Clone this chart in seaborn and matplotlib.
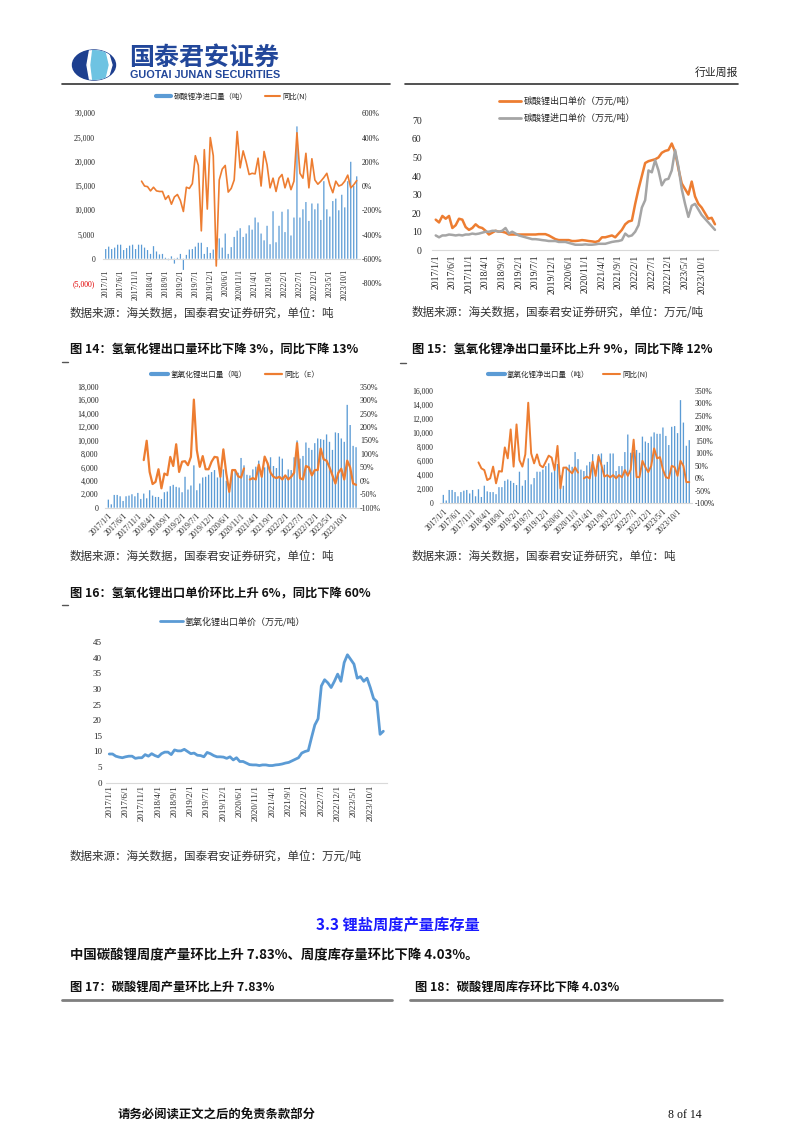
import numpy as np
import pandas as pd
import matplotlib
matplotlib.use("Agg")
import matplotlib.pyplot as plt
from matplotlib.lines import Line2D
from matplotlib.patches import Ellipse, Polygon
import seaborn as sns

sns.set_style("white")
plt.rcParams['font.family'] = ['Noto Sans CJK SC', 'DejaVu Sans']
plt.rcParams['axes.unicode_minus'] = False

W, H = 802, 1133
BLUE = '#5B9BD5'
ORANGE = '#ED7D31'
GRAY = '#A5A5A5'
AXIS = '#D9D9D9'
NUM = 'Liberation Serif'
nan = np.nan

# ---- data ----
months = list(range(85))          # 2017/1 .. 2024/2 (2020/1 merged into 2020/2)
tick_pos = list(range(0, 81, 5))
tick_labels = ["2017/1/1", "2017/6/1", "2017/11/1", "2018/4/1", "2018/9/1", "2019/2/1",
               "2019/7/1", "2019/12/1", "2020/6/1", "2020/11/1", "2021/4/1", "2021/9/1",
               "2022/2/1", "2022/7/1", "2022/12/1", "2023/5/1", "2023/10/1"]
yoy_months = list(range(12, 85))

# fig 13: lithium carbonate net import (t) and yoy (%)
li2co3_net_import = [2000, 2500, 2000, 2300, 2900, 2900, 1800, 2200, 2700, 2900,
                     2000, 2900, 2900, 2300, 1800, 1000, 2600, 1500, 900, 1000,
                     200, -300, 500, -1000, 200, 1000, -2300, 800, 1900, 2000,
                     2500, 3300, 3300, 1000, 2400, 1200, 1900, 3800, 4200, 2300,
                     5200, 1000, 2400, 4500, 5800, 6300, 4500, 5200, 6900, 6000,
                     8500, 7500, 5200, 3800, 6800, 3000, 9800, 3400, 6800, 9700,
                     5500, 10200, 4800, 8500, 27300, 8500, 10200, 11700, 7800, 11400,
                     10200, 11400, 8000, 16000, 10200, 8700, 11900, 12400, 10000, 13200,
                     10600, 16000, 20000, 15000, 17000]
li2co3_net_import_yoy = [40, 0, -5, -40, -10, -40, -45, -45, -110, -80,
                         -150, -90, -70, -120, -210, -10, -20, 20, 250, 170,
                         -370, 300, -190, 400, 250, -660, 50, 140, 170, -50,
                         -20, 50, 450, 150, 290, 200, 95, 105, 100, 230,
                         0, 285, 175, -15, 65, -45, 65, 95, -15, 65,
                         -30, 40, 440, 105, 65, 270, -15, 225, 50, 15,
                         40, 70, 105, 10, -55, 40, 0, 10, 40, 90,
                         -15, 10, 45]

# lithium carbonate unit prices (10k CNY/t)
li2co3_export_price = [16.5, 15, 18.5, 17, 18.5, 12, 13.5, 17, 16.5, 12.5,
                       11, 12, 14, 12.5, 12, 10.5, 8.5, 9.5, 10.5, 10,
                       10, 9.5, 8.5, 8.5, 8.5, 8.5, 8.5, 8.5, 8.5, 8.5,
                       8.5, 8.7, 8.7, 8.7, 8, 7, 6, 5.5, 5.5, 5.5,
                       5.5, 5, 5, 5.2, 5.5, 5.3, 5, 4.8, 4.5, 5,
                       7, 7, 7.5, 8, 7, 9, 11, 14, 15.5, 16,
                       25, 33, 40, 47, 48, 48.5, 49, 50, 52.5, 53.5,
                       54, 57.5, 53, 44, 36, 33, 30, 37, 29, 25,
                       23, 20, 17, 17.5, 14]
li2co3_import_price = [8, 7, 8, 8, 8.5, 8.3, 8, 8.3, 8, 8.5,
                       8.5, 9, 8.7, 9, 9.5, 10, 10, 10.5, 10.5, 10,
                       10.5, 12, 9, 10, 9, 8, 7.5, 7, 6.5, 6,
                       6, 5.8, 5.5, 5.3, 5, 5, 5, 4.5, 4.5, 4.5,
                       4, 3.5, 3, 3, 3, 3.2, 3, 3, 3.2, 3.5,
                       3.5, 3.5, 4, 4.5, 4.8, 5, 5.5, 9, 7.5, 8,
                       10, 13.5, 23, 27, 43, 42, 48.5, 43, 35, 38,
                       38.5, 43, 54, 45, 33, 25, 18, 24, 25, 22,
                       19, 17, 15, 13, 11]

# fig 14: lithium hydroxide export (t) and yoy (%)
lioh_export = [1200, 500, 1900, 1900, 1700, 1000, 1700, 1800, 2000, 1700,
               2200, 1300, 2100, 1400, 2600, 1800, 1600, 1600, 1300, 2300,
               2400, 3200, 3400, 3100, 3000, 2300, 4600, 2700, 3300, 6300,
               2600, 3600, 4500, 4600, 4900, 5300, 5600, 4500, 4800, 5700,
               4000, 2600, 5200, 5600, 5200, 7400, 6300, 4900, 4800, 5700,
               6100, 7000, 4700, 6000, 6700, 7500, 6200, 5900, 7600, 7300,
               4400, 5700, 5600, 7500, 10000, 7300, 7700, 9700, 8900, 8600,
               9600, 10300, 10200, 10100, 10900, 9800, 8600, 11200, 11100, 10300,
               9800, 15300, 12300, 9200, 9000]
lioh_export_yoy = [77, 149, 33, -12, -4, 43, -28, 27, 21, 89,
                   55, 136, 33, 71, 73, 58, 89, 302, 114, 52,
                   92, 43, 43, 71, 89, 87, 15, 117, 27, -41,
                   40, 40, 17, 12, 46, nan, 5, 10, 5, 60,
                   15, 90, 65, 30, 15, 10, 15, 5, 20, 5,
                   15, 30, 140, 10, 5, 55, 50, 20, 40, 40,
                   120, 80, 75, 50, 20, -10, 30, 45, 5, 75,
                   50, -10, -15]

# fig 15: lithium hydroxide net export (t) and yoy (%)
lioh_net_export = [1200, 400, 1900, 1900, 1600, 1000, 1600, 1800, 1900, 1400,
                   1900, 1000, 2000, 900, 2500, 1700, 1600, 1600, 1300, 2300,
                   2300, 3200, 3400, 3200, 2900, 2600, 4500, 2500, 3300, 6400,
                   2700, 3600, 4500, 4500, 4800, 5300, 5700, 4400, 4700, 5600,
                   4000, 2500, 5200, 5500, 5200, 7300, 6300, 4800, 4600, 5400,
                   5900, 7000, 4600, 7000, 7100, 5500, 5900, 7100, 7100, 4600,
                   5300, 5300, 7300, 9800, 7200, 7300, 7600, 7200, 9500, 8800,
                   8600, 9500, 10100, 9900, 9900, 10800, 9600, 8300, 10900, 11000,
                   10000, 14700, 11500, 8200, 9000]
lioh_net_export_yoy = [64, 40, 33, -7, 0, 47, -20, 29, 27, 124,
                       80, 196, 47, 216, 73, 47, 96, 303, 100, 60,
                       96, 53, 44, 67, 91, 83, 33, 130, -40, 43,
                       43, 31, 20, 44, 23, nan, 0, 7, 0, 67,
                       9, 89, 53, 7, 13, 4, 13, 0, 13, 4,
                       33, 10, 35, 155, 5, 5, 70, 45, 25, 50,
                       120, 80, 85, 35, 5, 0, 50, 45, 10, 70,
                       50, -15, -15]

# fig 16: lithium hydroxide export unit price (10k CNY/t)
lioh_export_price = [9.2, 9.2, 8.5, 8.2, 8, 8.3, 8.5, 8.5, 7.8, 8,
                     8, 9, 8.5, 9.3, 8.7, 8.3, 9.3, 9.8, 9.8, 9,
                     10.5, 10.2, 10.2, 10.7, 10, 9.3, 9.5, 8.8, 8.7, 8.3,
                     9.7, 9.3, 8.7, 8.3, 8.3, 8.2, 7.8, 8.3, 7.3, 8,
                     6.8, 6.8, 6.3, 5.8, 5.7, 5.7, 5.5, 5.7, 5.7, 5.5,
                     5.5, 5.7, 5.8, 6, 6.3, 6.5, 7, 7.5, 8, 9.5,
                     10, 10.3, 14.5, 18.5, 20.5, 31, 33, 32, 30.5, 32.5,
                     34.8, 32.5, 38.5, 41, 39.5, 38, 33.5, 34, 32.5, 33.5,
                     30.5, 27, 26, 15.5, 16.5]

# ---- page ----
fig = plt.figure(figsize=(W / 100, H / 100), dpi=100)

page = fig.add_axes([0, 0, 1, 1])
page.set_xlim(0, W)
page.set_ylim(H, 0)
page.axis('off')


def axes_px(left, top, right, bottom):
    return fig.add_axes([left / W, 1 - bottom / H, (right - left) / W, (bottom - top) / H])


def ptext(x, y, s, **kw):
    kw.setdefault('va', 'center')
    fig.text(x / W, 1 - y / H, s, **kw)


def draw_bars(ax, ys, width):
    sns.barplot(x=months, y=ys, native_scale=True, color=BLUE, saturation=1,
                width=width, errorbar=None, linewidth=0, ax=ax)
    for p in ax.patches:
        p.set_snap(False)


def draw_line(ax, xs, ys, color, lw):
    s = pd.Series(ys, index=xs, dtype=float)
    ok = s.notna()
    grp = (~ok).cumsum()
    for _, seg in s[ok].groupby(grp[ok]):
        sns.lineplot(x=list(seg.index), y=list(seg.values), ax=ax, color=color, linewidth=lw)


def style_x(ax, rot, size, pad):
    ax.set_xlim(-1, 85)
    ax.set_xticks(tick_pos)
    if rot == 90:
        ax.set_xticklabels(tick_labels, rotation=90, fontsize=size, family=NUM)
    else:
        ax.set_xticklabels(tick_labels, rotation=45, ha='right', rotation_mode='anchor',
                           fontsize=size, family=NUM)
    ax.tick_params(axis='x', length=0, pad=pad)
    for side in ['top', 'left', 'right']:
        ax.spines[side].set_visible(False)
    ax.spines['bottom'].set_color(AXIS)
    ax.spines['bottom'].set_linewidth(0.8)
    ax.set_xlabel('')
    ax.set_ylabel('')


def style_y(ax, ticks, labels, size, pad):
    ax.set_yticks(ticks)
    ax.set_yticklabels(labels, fontsize=size, family=NUM)
    ax.tick_params(axis='y', length=0, pad=pad)
    ax.set_ylabel('')


def twin(ax):
    ax2 = ax.twinx()
    for side in ax2.spines:
        ax2.spines[side].set_visible(False)
    return ax2


def fmt_k(v):
    return f"({abs(v):,})" if v < 0 else f"{v:,}"


# ---- header ----
logo = Ellipse((94, 65), 43, 30, color='#1D3F8F')
page.add_patch(logo)
gap = Polygon([(90, 48), (107, 48), (112, 65), (107, 82), (90, 82), (87, 65)], color='white')
page.add_patch(gap)
gap.set_clip_path(logo)
core = Polygon([(93, 48), (104, 48), (108, 65), (104, 82), (93, 82), (91, 65)], color='#6EC3E2')
page.add_patch(core)
core.set_clip_path(logo)
ptext(129, 58, "国泰君安证券", fontsize=18, fontweight='bold', color='#22479A')
ptext(130, 74.5, "GUOTAI JUNAN SECURITIES", fontsize=7.8, fontweight='bold', color='#22479A',
      family='Liberation Sans')
ptext(695, 73, "行业周报", fontsize=7.8, color='#222222')
page.plot([62, 390], [84, 84], color='#333333', lw=1.2)
page.plot([405, 738], [84, 84], color='#333333', lw=1.2)

# ---- chart 1: lithium carbonate net import ----
ax = axes_px(102.7, 113.3, 359.7, 283)
draw_bars(ax, li2co3_net_import, 0.42)
ax.set_ylim(-5000, 30000)
ax.spines['bottom'].set_position(('data', 0))
style_x(ax, 90, 5.6, 7.5)
style_y(ax, list(range(-5000, 30001, 5000)), [fmt_k(v) for v in range(-5000, 30001, 5000)], 5.6, 5.5)
ax.get_yticklabels()[0].set_color('#E00000')
ax2 = twin(ax)
draw_line(ax2, yoy_months, li2co3_net_import_yoy, ORANGE, 1.2)
ax2.set_ylim(-800, 600)
style_y(ax2, list(range(-800, 601, 200)), [f"{v}%" for v in range(-800, 601, 200)], 5.6, 1.5)
ax.set_xlim(-1, 85)
fig.legend([Line2D([], [], color=BLUE, lw=3), Line2D([], [], color=ORANGE, lw=1.5)],
           ["碳酸锂净进口量（吨）", "同比(N)"], loc='center', bbox_to_anchor=(231.7 / W, 1 - 97 / H),
           ncol=2, frameon=False, fontsize=5.3, handlelength=2.1, handletextpad=0.3,
           columnspacing=2.4, borderpad=0)

# ---- chart 2: lithium carbonate prices ----
ax = axes_px(432.4, 120.3, 718.3, 250.3)
sns.lineplot(x=months, y=li2co3_export_price, color=ORANGE, linewidth=1.8, ax=ax)
sns.lineplot(x=months, y=li2co3_import_price, color=GRAY, linewidth=1.8, ax=ax)
ax.set_ylim(0, 70)
style_x(ax, 90, 7, 2.9)
style_y(ax, list(range(0, 71, 10)), [str(v) for v in range(0, 71, 10)], 7, 7.7)
fig.legend([Line2D([], [], color=ORANGE, lw=2), Line2D([], [], color=GRAY, lw=2)],
           ["碳酸锂出口单价（万元/吨）", "碳酸锂进口单价（万元/吨）"], loc='center',
           bbox_to_anchor=(567 / W, 1 - 109.5 / H), ncol=1, frameon=False, fontsize=6.5,
           handlelength=2.4, handletextpad=0.3, labelspacing=0.85, borderpad=0)

# ---- chart 3: lithium hydroxide export ----
ax = axes_px(105.4, 386.7, 359, 507.7)
draw_bars(ax, lioh_export, 0.45)
ax.set_ylim(0, 18000)
style_x(ax, 45, 5.8, 3)
style_y(ax, list(range(0, 18001, 2000)), [fmt_k(v) for v in range(0, 18001, 2000)], 5.8, 5)
ax2 = twin(ax)
draw_line(ax2, yoy_months, lioh_export_yoy, ORANGE, 1.6)
ax2.set_ylim(-100, 350)
style_y(ax2, list(range(-100, 351, 50)), [f"{v}%" for v in range(-100, 351, 50)], 5.8, 0.7)
ax.set_xlim(-1, 85)
fig.legend([Line2D([], [], color=BLUE, lw=3), Line2D([], [], color=ORANGE, lw=1.6)],
           ["氢氧化锂出口量（吨）", "同比（E）"], loc='center', bbox_to_anchor=(235 / W, 1 - 375 / H),
           ncol=2, frameon=False, fontsize=5.5, handlelength=2.2, handletextpad=0.3,
           columnspacing=2.4, borderpad=0)

# ---- chart 4: lithium hydroxide net export ----
ax = axes_px(440.4, 391, 692.2, 503.3)
draw_bars(ax, lioh_net_export, 0.45)
ax.set_ylim(0, 16000)
style_x(ax, 45, 5.5, 3)
style_y(ax, list(range(0, 16001, 2000)), [fmt_k(v) for v in range(0, 16001, 2000)], 5.5, 5)
ax2 = twin(ax)
draw_line(ax2, yoy_months, lioh_net_export_yoy, ORANGE, 1.4)
ax2.set_ylim(-100, 350)
style_y(ax2, list(range(-100, 351, 50)), [f"{v}%" for v in range(-100, 351, 50)], 5.5, 2)
ax.set_xlim(-1, 85)
fig.legend([Line2D([], [], color=BLUE, lw=3), Line2D([], [], color=ORANGE, lw=1.5)],
           ["氢氧化锂净出口量（吨）", "同比(N)"], loc='center', bbox_to_anchor=(567.7 / W, 1 - 375 / H),
           ncol=2, frameon=False, fontsize=5.4, handlelength=2.35, handletextpad=0.2,
           columnspacing=1.8, borderpad=0)

# ---- chart 5: lithium hydroxide export price ----
ax = axes_px(106, 642.3, 386.6, 782.7)
sns.lineplot(x=months, y=lioh_export_price, color=BLUE, linewidth=2, ax=ax)
ax.set_ylim(0, 45)
style_x(ax, 90, 6.5, 1.5)
style_y(ax, list(range(0, 46, 5)), [str(v) for v in range(0, 46, 5)], 6.5, 3)
fig.legend([Line2D([], [], color=BLUE, lw=2)], ["氢氧化锂出口单价（万元/吨）"], loc='center',
           bbox_to_anchor=(232.5 / W, 1 - 621.7 / H), frameon=False, fontsize=6.5,
           handlelength=2.6, handletextpad=0.2, borderpad=0)

# ---- page text ----
TXT = '#333333'
src_t = "数据来源：海关数据，国泰君安证券研究，单位：吨"
src_p = "数据来源：海关数据，国泰君安证券研究，单位：万元/吨"
ptext(70, 313, src_t, fontsize=8.3, color=TXT)
ptext(412, 313, src_p, fontsize=8.3, color=TXT)
ptext(70, 350, "图 14：氢氧化锂出口量环比下降 3%，同比下降 13%", fontsize=8.8, fontweight='bold', color='#111111')
ptext(412, 350, "图 15：氢氧化锂净出口量环比上升 9%，同比下降 12%", fontsize=8.8, fontweight='bold', color='#111111')
ptext(70, 556, src_t, fontsize=8.3, color=TXT)
ptext(412, 556, src_t, fontsize=8.3, color=TXT)
ptext(70, 594, "图 16：氢氧化锂出口单价环比上升 6%，同比下降 60%", fontsize=8.8, fontweight='bold', color='#111111')
ptext(70, 857, src_p, fontsize=8.3, color=TXT)
ptext(398, 925, "3.3 锂盐周度产量库存量", fontsize=11, fontweight='bold', color='#1A1AFF', ha='center')
ptext(70, 955, "中国碳酸锂周度产量环比上升 7.83%、周度库存量环比下降 4.03%。", fontsize=9.6,
      fontweight='bold', color='#111111')
ptext(70, 987, "图 17：碳酸锂周产量环比上升 7.83%", fontsize=8.8, fontweight='bold', color='#111111')
ptext(415, 987, "图 18：碳酸锂周库存环比下降 4.03%", fontsize=8.8, fontweight='bold', color='#111111')
page.plot([62, 392], [1000, 1000], color='#7F7F7F', lw=2)
page.plot([410, 722], [1000, 1000], color='#7F7F7F', lw=2)
for x0, y0 in [(62, 362), (400, 363), (62, 605)]:
    page.plot([x0, x0 + 6], [y0, y0], color='#555555', lw=1)

ptext(118, 1115, "请务必阅读正文之后的免责条款部分", fontsize=8.9, fontweight='bold', color='#111111')
ptext(668, 1115, "8 of 14", fontsize=8.5, family=NUM, color='#111111')

fig.savefig("out.png", dpi=100)
